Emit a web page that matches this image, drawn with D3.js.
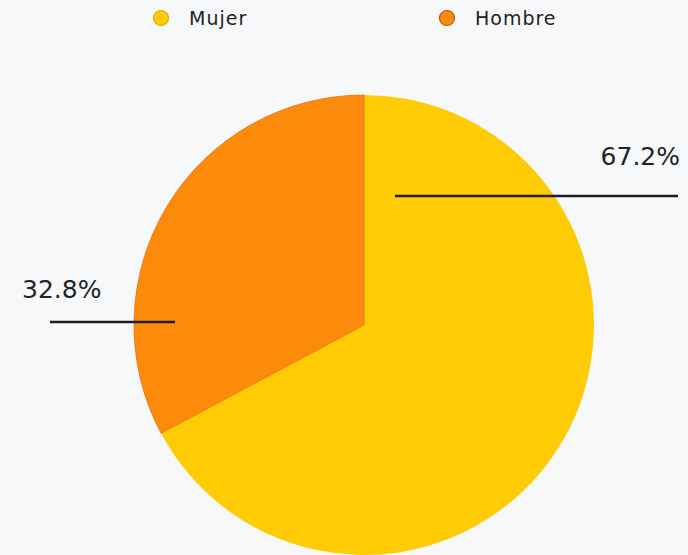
<!DOCTYPE html>
<html>
<head>
<meta charset="utf-8">
<script src="https://cdn.jsdelivr.net/npm/d3@7"></script>
<style>
  html, body { margin: 0; padding: 0; background: #f7f8fa; }
  svg { display: block; }
</style>
</head>
<body>
<script>
// Gender split of respondents
const categories = ["Mujer", "Hombre"];
const values = [67.2, 32.8];
const labels = ["67.2%", "32.8%"];
const colors = ["#fecb05", "#fd8b0b"];

const width = 688, height = 555;
const cx = 364, cy = 325, radius = 230;

const svg = d3.select("body").append("svg")
  .attr("width", width)
  .attr("height", height);

svg.append("rect").attr("width", width).attr("height", height).attr("fill", "#f7f8fa");

const color = d3.scaleOrdinal().domain(categories).range(colors);

const pie = d3.pie().sort(null).value(d => d.value);
const arcs = pie(categories.map((c, i) => ({ name: c, value: values[i], label: labels[i] })));
const arc = d3.arc().innerRadius(0).outerRadius(radius);

const g = svg.append("g").attr("transform", `translate(${cx},${cy})`);

g.selectAll("path.slice")
  .data(arcs)
  .join("path")
  .attr("class", "slice")
  .attr("d", arc)
  .attr("fill", d => color(d.data.name))
  .attr("stroke", (d, i) => i === 1 ? "#ef6a0c" : "none")
  .attr("stroke-width", 0.8);

// Leader lines and percentage labels
const font = "'DejaVu Sans', sans-serif";
const leaders = [
  { x1: 31, x2: 314, y: -129, tx: 316, ty: -160, anchor: "end" },
  { x1: -189, x2: -314, y: -3, tx: -342, ty: -27, anchor: "start" }
];

arcs.forEach((d, i) => {
  const L = leaders[i];
  g.append("line")
    .attr("x1", L.x1).attr("x2", L.x2)
    .attr("y1", L.y).attr("y2", L.y)
    .attr("stroke", "#1f1d22")
    .attr("stroke-width", 2.5);
  g.append("text")
    .attr("x", L.tx).attr("y", L.ty)
    .attr("text-anchor", L.anchor)
    .attr("font-family", font)
    .attr("font-size", 25)
    .attr("fill", "#222226")
    .text(d.data.label);
});

// Legend
const legendX = [161, 447];
const legend = svg.append("g");
categories.forEach((c, i) => {
  legend.append("circle")
    .attr("cx", legendX[i]).attr("cy", 18)
    .attr("r", 7.5)
    .attr("fill", color(c))
    .attr("stroke", i === 0 ? "#e0a800" : "#c8520a")
    .attr("stroke-width", 1.2);
  legend.append("text")
    .attr("x", legendX[i] + 28).attr("y", 25)
    .attr("font-family", font)
    .attr("font-size", 19)
    .attr("letter-spacing", 1)
    .attr("fill", "#222226")
    .text(c);
});
</script>
</body>
</html>
